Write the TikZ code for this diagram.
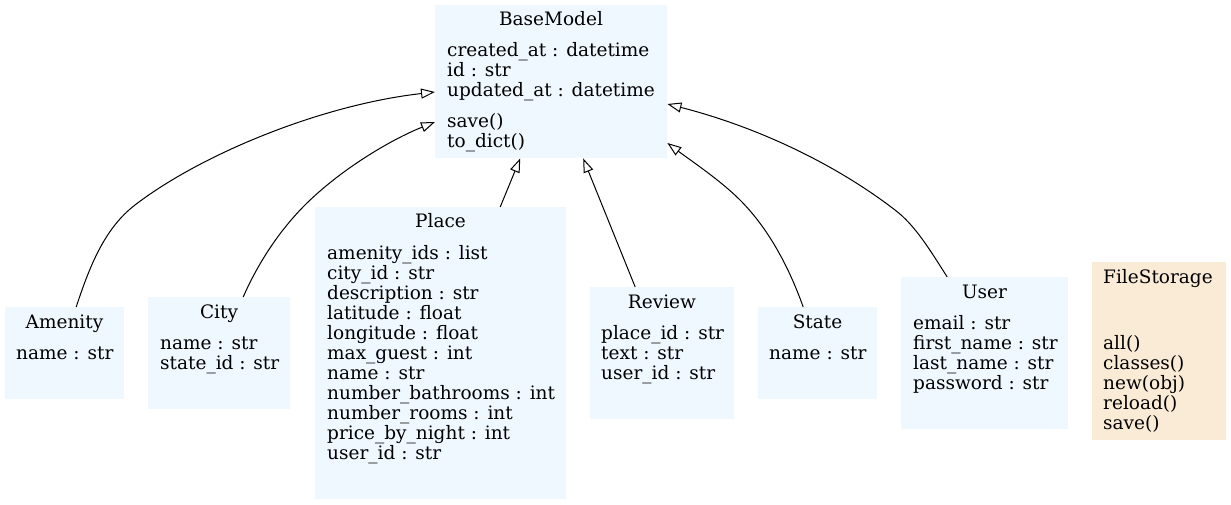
\documentclass[tikz,border=0pt]{standalone}
\usepackage{fontspec}
\setmainfont{DejaVu Serif}
\usetikzlibrary{arrows.meta}
\definecolor{aliceblue}{HTML}{F0F8FF}
\definecolor{antiquewhite}{HTML}{FAEBD7}
\tikzset{
  cls/.style={draw=none, fill=aliceblue, inner sep=0pt, anchor=north west},
  store/.style={draw=none, fill=antiquewhite, inner sep=0pt, anchor=north west},
  ttl/.style={inner sep=0pt, anchor=base, font=\fontsize{18.5}{20}\selectfont},
  txt/.style={inner sep=0pt, anchor=base west, font=\fontsize{18.5}{20}\selectfont},
  inh/.style={draw=black, line width=1pt, -{Triangle[open, length=14pt, width=10pt, fill=white]}}
}
\newcommand{\classlines}[4]{%
  \foreach \t [count=\i] in {#4} {\node[txt] (#1-\i) at (#2, #3+20*\i-20) {\t};}}
\begin{document}
\begin{tikzpicture}[x=1pt, y=-1pt]
\useasboundingbox[fill=white] (0,0) rectangle (1231,505);
% boxes
\node[cls, minimum width=232pt, minimum height=153pt] (base) at (435,5) {};
\node[cls, minimum width=119pt, minimum height=92pt] (amenity) at (5,307) {};
\node[cls, minimum width=142pt, minimum height=112pt] (city) at (148,297) {};
\node[cls, minimum width=251pt, minimum height=292pt] (place) at (315,207) {};
\node[cls, minimum width=144pt, minimum height=132pt] (review) at (590,287) {};
\node[cls, minimum width=119pt, minimum height=92pt] (state) at (758,307) {};
\node[cls, minimum width=167pt, minimum height=152pt] (user) at (901,277) {};
\node[store, minimum width=134pt, minimum height=178pt] (fs) at (1092,262) {};
% titles
\node[ttl] (base-t) at (551,26) {BaseModel};
\node[ttl] (amenity-t) at (64.5,328) {Amenity};
\node[ttl] (city-t) at (219,318) {City};
\node[ttl] (place-t) at (440.5,228) {Place};
\node[ttl] (review-t) at (662,308) {Review};
\node[ttl] (state-t) at (817.5,328) {State};
\node[ttl] (user-t) at (984.5,298) {User};
\node[txt] (fs-t) at (1103,283) {FileStorage};
% fields
\classlines{base-a}{447}{57}{created\_at : datetime, id : str, updated\_at : datetime}
\classlines{base-m}{447}{128}{save(), to\_dict()}
\classlines{amenity-a}{16}{359}{name : str}
\classlines{city-a}{160}{349}{name : str, state\_id : str}
\classlines{place-a}{327}{259}{amenity\_ids : list, city\_id : str, description : str, latitude : float, longitude : float, max\_guest : int, name : str, number\_bathrooms : int, number\_rooms : int, price\_by\_night : int, user\_id : str}
\classlines{review-a}{601}{339}{place\_id : str, text : str, user\_id : str}
\classlines{state-a}{769}{359}{name : str}
\classlines{user-a}{913}{329}{email : str, first\_name : str, last\_name : str, password : str}
\classlines{fs-m}{1103}{349}{all(), classes(), new(obj), reload(), save()}
% inheritance
\draw[inh] ([xshift=11.5pt]amenity.north) .. controls (90,265) and (105,228) .. (135,205)
  .. controls (200,155) and (320,105) .. ([yshift=-87pt]base.north west);
\draw[inh] ([xshift=24pt]city.north) .. controls (255,270) and (275,235) .. (305,205)
  .. controls (340,170) and (390,140) .. ([yshift=-117pt]base.north west);
\draw[inh] ([xshift=59.5pt]place.north) -- ([xshift=-31pt]base.south);
\draw[inh] ([xshift=-27pt]review.north) -- ([xshift=32pt]base.south);
\draw[inh] ([xshift=-14.5pt]state.north) .. controls (790,270) and (770,230) .. (740,200)
  .. controls (720,180) and (690,160) .. ([yshift=-138pt]base.north east);
\draw[inh] ([xshift=-37.5pt]user.north) .. controls (930,250) and (915,225) .. (895,210)
  .. controls (830,160) and (750,125) .. ([yshift=-99pt]base.north east);
\end{tikzpicture}
\end{document}
